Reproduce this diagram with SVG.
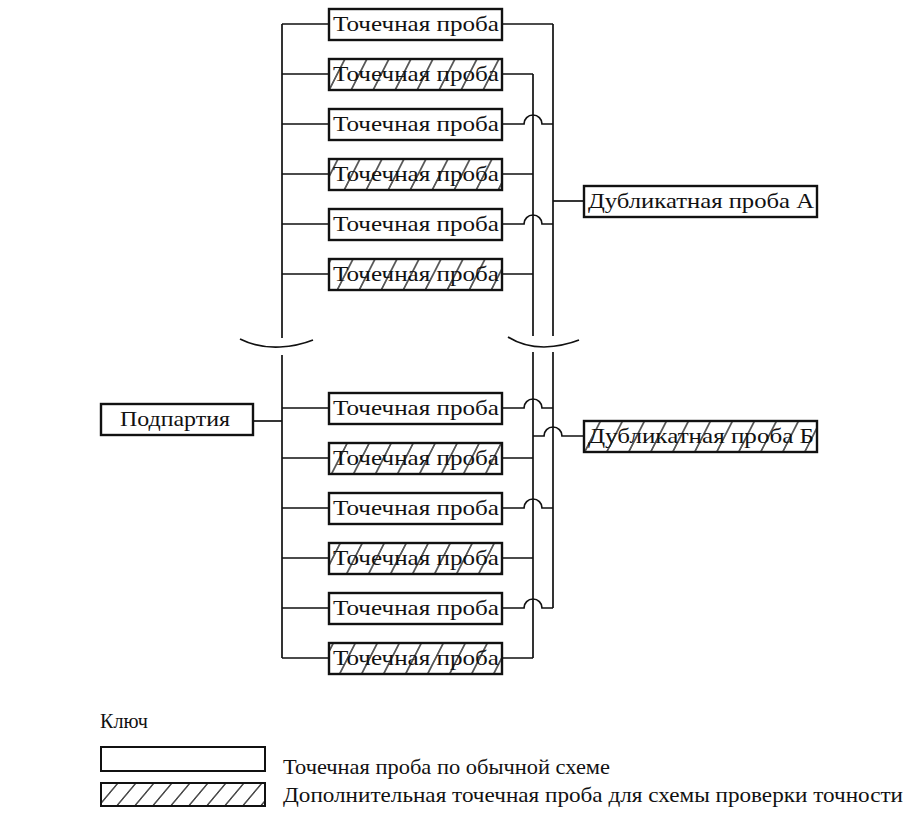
<svg xmlns="http://www.w3.org/2000/svg" width="910" height="814" viewBox="0 0 910 814">
<style>
.box{fill:#fff;stroke:#111;stroke-width:2.4}
.hbox{fill:url(#hatch);stroke:#111;stroke-width:2.4}
.t{font-family:"Liberation Serif","DejaVu Serif",serif;font-size:22px;fill:#111}
.w{fill:none;stroke:#111;stroke-width:1.7}
</style>
<defs>
<pattern id="hatch" patternUnits="userSpaceOnUse" width="22" height="10" patternTransform="skewX(-27)">
<rect width="22" height="10" fill="#fff"/>
<line x1="1" y1="0" x2="1" y2="10" stroke="#111" stroke-width="1.4"/>
</pattern>
<pattern id="hatchL" patternUnits="userSpaceOnUse" width="18" height="10" patternTransform="skewX(-40)">
<rect width="18" height="10" fill="#fff"/>
<line x1="1" y1="0" x2="1" y2="10" stroke="#111" stroke-width="1.5"/>
</pattern>
</defs>

<g id="connectors" class="w">
<path d="M282,24 V338 M282,355 V658"/>
<path d="M553,24 V336 M553,352 V608"/>
<path d="M533,74 V336 M533,352 V658"/>
<path d="M253,421 H282"/>
<path d="M282,24 H329 M282,74 H329 M282,124 H329 M282,174 H329 M282,224 H329 M282,274 H329"/>
<path d="M282,408 H329 M282,458 H329 M282,508 H329 M282,558 H329 M282,608 H329 M282,658 H329"/>
<path d="M502,24 H553"/>
<path d="M502,74 H533 M502,174 H533 M502,274 H533 M502,458 H533 M502,558 H533 M502,658 H533"/>
<path d="M502,124 H524 A9,9 0 0 1 542,124 H553"/>
<path d="M502,224 H524 A9,9 0 0 1 542,224 H553"/>
<path d="M502,408 H524 A9,9 0 0 1 542,408 H553"/>
<path d="M502,508 H524 A9,9 0 0 1 542,508 H553"/>
<path d="M502,608 H524 A9,9 0 0 1 542,608 H553"/>
<path d="M553,201 H584"/>
<path d="M533,436 H544 A9,9 0 0 1 562,436 H584"/>
<path d="M240,339 Q258,348 280,347 Q298,346 313,340"/>
<path d="M508,337 Q524,347 544,347 Q564,346 579,340"/>
</g>

<g id="podpartiya"><rect class="box" x="101" y="404" width="152" height="31"/><text class="t" x="120" y="426" textLength="110" lengthAdjust="spacingAndGlyphs">Подпартия</text></g>

<g id="p1"><rect class="box" x="329" y="9" width="173" height="31"/><text class="t" x="333" y="31" textLength="166" lengthAdjust="spacingAndGlyphs">Точечная проба</text></g>
<g id="p2"><rect class="hbox" x="329" y="59" width="173" height="31"/><text class="t" x="333" y="81" textLength="166" lengthAdjust="spacingAndGlyphs">Точечная проба</text></g>
<g id="p3"><rect class="box" x="329" y="109" width="173" height="31"/><text class="t" x="333" y="131" textLength="166" lengthAdjust="spacingAndGlyphs">Точечная проба</text></g>
<g id="p4"><rect class="hbox" x="329" y="159" width="173" height="31"/><text class="t" x="333" y="181" textLength="166" lengthAdjust="spacingAndGlyphs">Точечная проба</text></g>
<g id="p5"><rect class="box" x="329" y="209" width="173" height="31"/><text class="t" x="333" y="231" textLength="166" lengthAdjust="spacingAndGlyphs">Точечная проба</text></g>
<g id="p6"><rect class="hbox" x="329" y="259" width="173" height="31"/><text class="t" x="333" y="281" textLength="166" lengthAdjust="spacingAndGlyphs">Точечная проба</text></g>
<g id="p7"><rect class="box" x="329" y="393" width="173" height="31"/><text class="t" x="333" y="415" textLength="166" lengthAdjust="spacingAndGlyphs">Точечная проба</text></g>
<g id="p8"><rect class="hbox" x="329" y="443" width="173" height="31"/><text class="t" x="333" y="465" textLength="166" lengthAdjust="spacingAndGlyphs">Точечная проба</text></g>
<g id="p9"><rect class="box" x="329" y="493" width="173" height="31"/><text class="t" x="333" y="515" textLength="166" lengthAdjust="spacingAndGlyphs">Точечная проба</text></g>
<g id="p10"><rect class="hbox" x="329" y="543" width="173" height="31"/><text class="t" x="333" y="565" textLength="166" lengthAdjust="spacingAndGlyphs">Точечная проба</text></g>
<g id="p11"><rect class="box" x="329" y="593" width="173" height="31"/><text class="t" x="333" y="615" textLength="166" lengthAdjust="spacingAndGlyphs">Точечная проба</text></g>
<g id="p12"><rect class="hbox" x="329" y="643" width="173" height="31"/><text class="t" x="333" y="665" textLength="166" lengthAdjust="spacingAndGlyphs">Точечная проба</text></g>

<g id="dupA"><rect class="box" x="584" y="186" width="233" height="31"/><text class="t" x="588" y="208" textLength="226" lengthAdjust="spacingAndGlyphs">Дубликатная проба А</text></g>
<g id="dupB"><rect class="hbox" x="584" y="421" width="233" height="31"/><text class="t" x="588" y="443" textLength="226" lengthAdjust="spacingAndGlyphs">Дубликатная проба Б</text></g>

<g id="legend">
<text class="t" x="100" y="728" textLength="48" lengthAdjust="spacingAndGlyphs">Ключ</text>
<rect x="101" y="747" width="164" height="24" fill="#fff" stroke="#111" stroke-width="2"/>
<rect x="101" y="783" width="164" height="23" fill="url(#hatchL)" stroke="#111" stroke-width="2"/>
<text class="t" x="283" y="774" textLength="327" lengthAdjust="spacingAndGlyphs">Точечная проба по обычной схеме</text>
<text class="t" x="283" y="802" textLength="620" lengthAdjust="spacingAndGlyphs">Дополнительная точечная проба для схемы проверки точности</text>
</g>
</svg>
